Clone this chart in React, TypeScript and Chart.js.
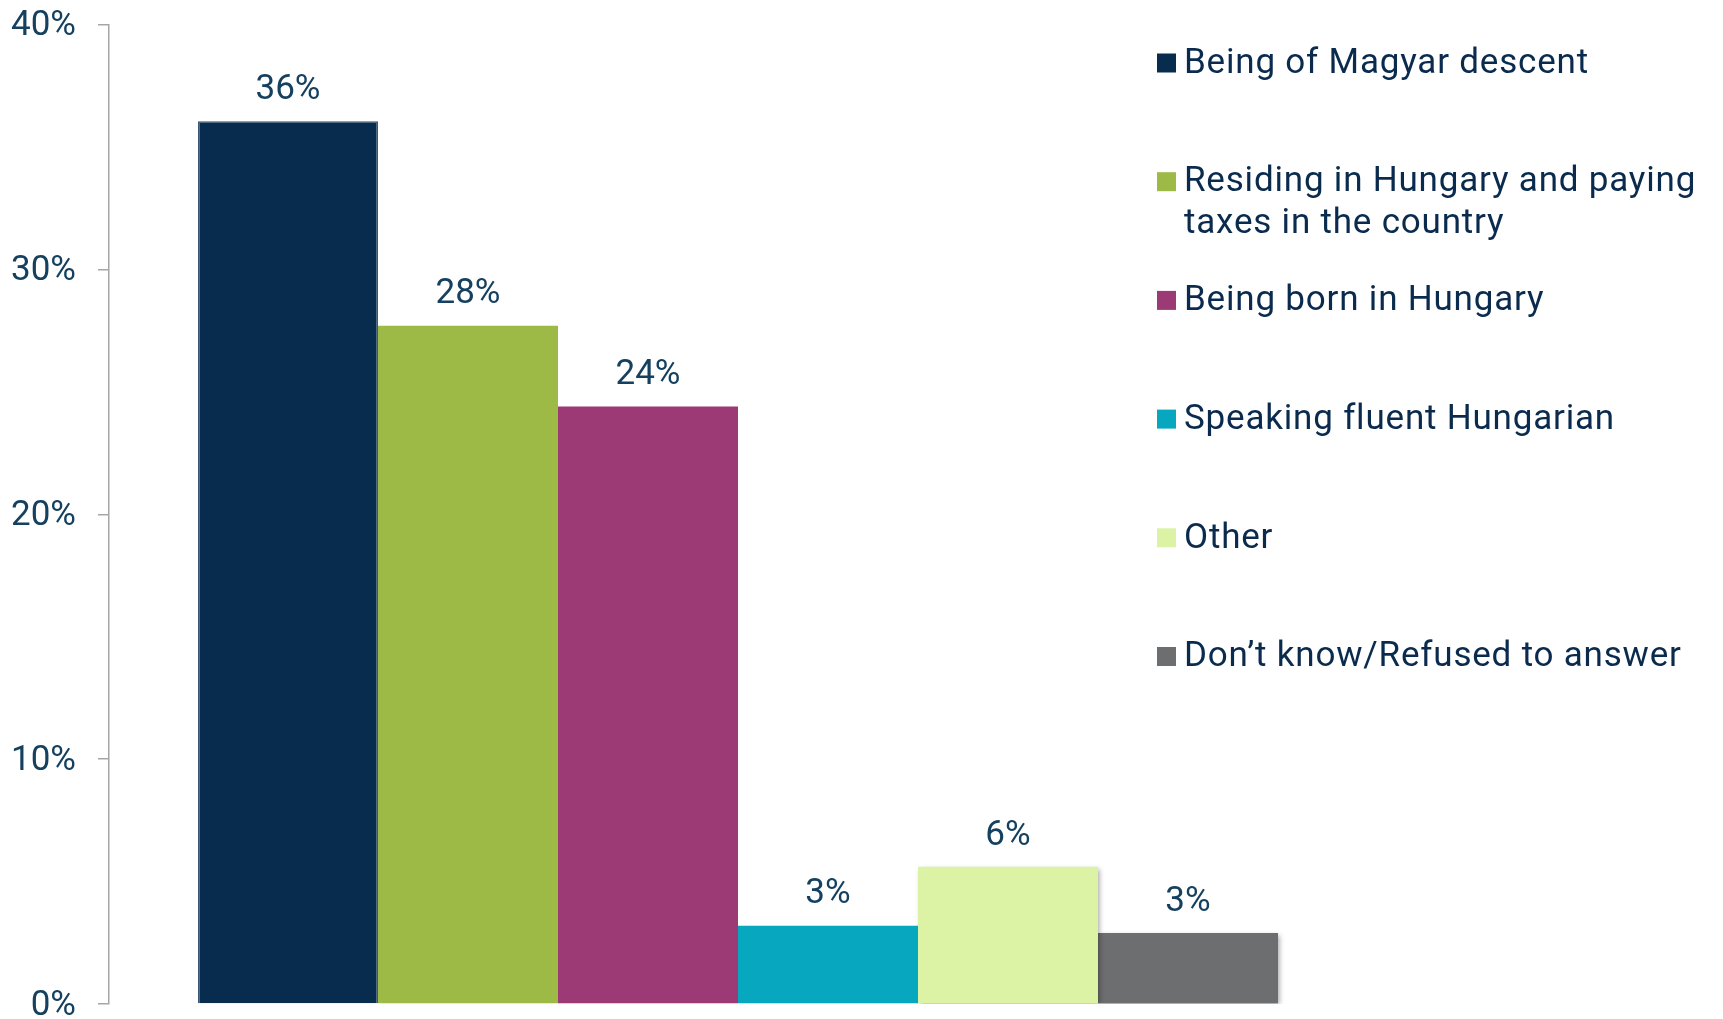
import React, { useEffect, useRef } from "react";
import { Chart, registerables } from "chart.js";

Chart.register(...registerables);

const categories = [""];
const seriesNames: (string | string[])[] = [
  "Being of Magyar descent",
  ["Residing in Hungary and paying", "taxes in the country"],
  "Being born in Hungary",
  "Speaking fluent Hungarian",
  "Other",
  "Don’t know/Refused to answer",
];
const seriesValues = [36.05, 27.7, 24.4, 3.2, 5.6, 2.9];
const seriesColors = ["#082c4e", "#9cba45", "#9c3a76", "#07a7c0", "#dcf3a5", "#6d6e70"];
const yTickMin = 0;
const yTickMax = 40;
const yTickStep = 10;

const FAMILY = 'Roboto, "Liberation Sans", sans-serif';
const NUM_FONT = "35px " + FAMILY;
const LEGEND_FONT = "35px " + FAMILY;
const NUM_COLOR = "#15405f";
const LEGEND_COLOR = "#0a2b4e";

const shadowPlugin = {
  id: "barShadow",
  beforeDatasetDraw(chart: any, args: any) {
    const ctx = chart.ctx;
    ctx.save();
    if (args.index >= 4) {
      ctx.shadowColor = "rgba(0,0,0,0.35)";
      ctx.shadowBlur = 5;
      ctx.shadowOffsetX = 2;
      ctx.shadowOffsetY = 2;
    }
  },
  afterDatasetDraw(chart: any) {
    chart.ctx.restore();
  },
};

const dataLabelPlugin = {
  id: "dataLabels",
  afterDatasetsDraw(chart: any) {
    const ctx = chart.ctx;
    ctx.save();
    ctx.font = NUM_FONT;
    ctx.fillStyle = NUM_COLOR;
    ctx.textAlign = "center";
    ctx.textBaseline = "middle";
    chart.data.datasets.forEach((ds: any, i: number) => {
      const meta = chart.getDatasetMeta(i);
      meta.data.forEach((el: any, j: number) => {
        const v = ds.data[j];
        ctx.fillText(Math.round(v) + "%", el.x, el.y - 31);
      });
    });
    ctx.restore();
  },
};

const legendPlugin = {
  id: "sideLegend",
  afterDraw(chart: any) {
    const ctx = chart.ctx;
    ctx.save();
    ctx.font = LEGEND_FONT;
    ctx.textAlign = "left";
    ctx.textBaseline = "middle";
    try {
      (ctx as any).letterSpacing = "0.8px";
    } catch (e) {}
    chart.data.datasets.forEach((ds: any, i: number) => {
      const yc = 63 + i * 118.7;
      ctx.fillStyle = ds.backgroundColor;
      ctx.fillRect(1157, yc - 9.5, 19, 19);
      ctx.fillStyle = LEGEND_COLOR;
      const lines = Array.isArray(ds.label) ? ds.label : [ds.label];
      lines.forEach((t: string, k: number) => {
        ctx.fillText(t, 1184, yc + 1 + k * 42);
      });
    });
    ctx.restore();
  },
};

export default function App() {
  const ref = useRef<HTMLCanvasElement | null>(null);
  useEffect(() => {
    document.body.style.margin = "0";
    const canvas = ref.current!;
    const chart = new Chart(canvas, {
      type: "bar",
      data: {
        labels: categories,
        datasets: seriesNames.map((name, i) => ({
          label: name as any,
          data: [seriesValues[i]],
          backgroundColor: seriesColors[i],
          borderWidth: i === 0 ? 1.5 : 0,
          borderColor: "#3a5877",
          barPercentage: 1,
          categoryPercentage: 0.8585,
        })),
      },
      options: {
        animation: false,
        responsive: false,
        maintainAspectRatio: false,
        layout: { padding: { top: 24.5, bottom: 15, left: 0, right: 356 } },
        plugins: {
          legend: { display: false },
          tooltip: { enabled: false },
        },
        scales: {
          x: { display: false },
          y: {
            min: yTickMin,
            max: yTickMax,
            afterFit: (s: any) => {
              s.width = 109;
              s.paddingTop = 0;
              s.paddingBottom = 0;
            },
            grid: {
              drawOnChartArea: false,
              drawTicks: true,
              tickLength: 11,
              color: "#a6a6a6",
              lineWidth: 1.5,
            },
            border: { display: true, color: "#a6a6a6", width: 1.5 },
            ticks: {
              stepSize: yTickStep,
              padding: 22,
              labelOffset: 2,
              color: NUM_COLOR,
              font: { family: FAMILY, size: 35, lineHeight: 0.8 },
              callback: (v: any) => v + "%",
            },
          },
        },
      },
      plugins: [shadowPlugin, dataLabelPlugin, legendPlugin],
    });
    return () => chart.destroy();
  }, []);
  return (
    <div style={{ width: 1723, height: 1019 }}>
      <canvas ref={ref} width={1723} height={1019} style={{ display: "block" }} />
    </div>
  );
}
